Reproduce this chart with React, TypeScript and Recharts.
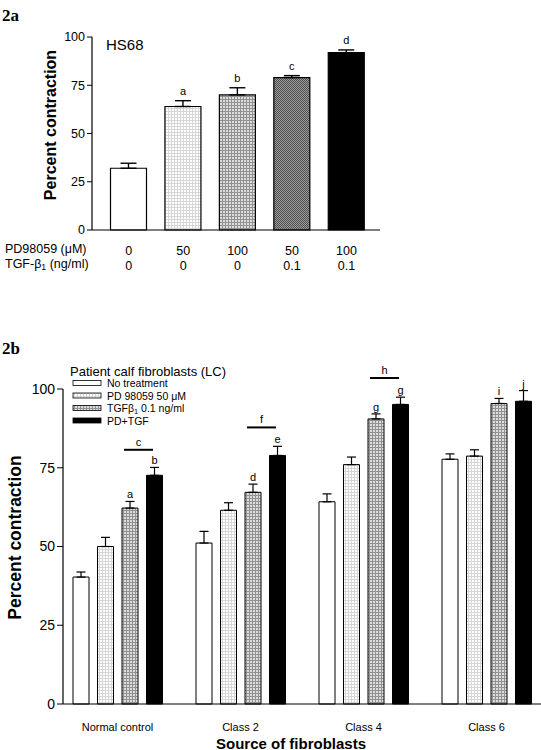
import React from 'react';
import { BarChart, Bar, XAxis, YAxis, ErrorBar, Cell, LabelList, Legend } from 'recharts';

// ---- panel 2a (HS68) ----
const topIds = [0, 1, 2, 3, 4];
const pdDose = ['0', '50', '100', '50', '100'];
const tgfDose = ['0', '0', '0', '0.1', '0.1'];
const topValues = [32.0, 64.0, 70.0, 79.0, 91.9];
const topErr = [2.6, 3.0, 3.7, 1.0, 1.4];
const topLetters = ['', 'a', 'b', 'c', 'd'];

// ---- panel 2b (patient calf fibroblasts) ----
const sources = ['Normal control', 'Class 2', 'Class 4', 'Class 6'];
const seriesNames = ['No treatment', 'PD 98059 50 μM', 'TGFβ1 0.1 ng/ml', 'PD+TGF'];
const noTreatment = [40.3, 51.1, 64.2, 77.7];
const noTreatmentErr = [1.6, 3.7, 2.5, 1.7];
const pd98059 = [50.0, 61.5, 76.0, 78.7];
const pd98059Err = [2.9, 2.4, 2.4, 2.0];
const tgfb = [62.2, 67.2, 90.5, 95.4];
const tgfbErr = [2.1, 2.6, 1.6, 1.6];
const pdTgf = [72.6, 78.9, 95.1, 96.1];
const pdTgfErr = [2.5, 2.9, 2.3, 3.4];
const tgfbLetters = ['a', 'd', 'g', 'i'];
const pdTgfLetters = ['b', 'e', 'g', 'j'];
const bracketLevel = [80.7, 87.8, 103.5, 0];
const bracketLetters = ['c', 'f', 'h', ''];

const yTicks = [0, 25, 50, 75, 100];

const topData = topIds.map((id, i) => ({ id, value: topValues[i], err: [0, topErr[i]] }));
const bottomData = sources.map((s, i) => ({
  source: s,
  nt: noTreatment[i], ntErr: [0, noTreatmentErr[i]],
  pd: pd98059[i], pdErr: [0, pd98059Err[i]],
  tgf: tgfb[i], tgfErr: [0, tgfbErr[i]],
  both: pdTgf[i], bothErr: [0, pdTgfErr[i]],
}));

const topFills = ['#fff', 'url(#pLight)', 'url(#pMid)', 'url(#pDark)', '#000'];
const seriesFills = ['#fff', 'url(#pLight)', 'url(#pMid)', '#000'];

const box = (p: any) => (p.viewBox && p.viewBox.width != null ? p.viewBox : p);

const letterLabel = (vals: number[], errs: number[], letters: string[], gap: number, size: number) => (p: any) => {
  const i = p.index;
  const t = letters[i];
  if (!t) return null;
  const b = box(p);
  const unit = b.height / vals[i];
  const top = b.y - errs[i] * unit;
  return (
    <text key={'l' + i} x={b.x + b.width / 2} y={top - gap} textAnchor="middle" fontSize={size} fill="#000">
      {t}
    </text>
  );
};

const bracketLabel = (p: any) => {
  const i = p.index;
  const t = bracketLetters[i];
  if (!t) return null;
  const b = box(p);
  const unit = b.height / tgfb[i];
  const ly = b.y + b.height - bracketLevel[i] * unit;
  const x1 = b.x + 2;
  const x2 = x1 + 29;
  return (
    <g key={'b' + i}>
      <line x1={x1} x2={x2} y1={ly} y2={ly} stroke="#000" strokeWidth={2} />
      <text x={(x1 + x2) / 2} y={ly - 4} textAnchor="middle" fontSize={11} fill="#000">{t}</text>
    </g>
  );
};

const withSub = (s: string) => {
  const k = s.indexOf('β1');
  if (k < 0) return s;
  return (
    <>
      {s.slice(0, k + 1)}
      <tspan fontSize="0.7em" dy={2}>1</tspan>
      <tspan dy={-2}>{s.slice(k + 2)}</tspan>
    </>
  );
};

const TopTick = (props: any) => {
  const { x, y, payload } = props;
  const i = Number(payload.value);
  return (
    <g>
      <text x={x} y={y + 22.5} textAnchor="middle" fontSize={12.5} fill="#000">{pdDose[i]}</text>
      <text x={x} y={y + 38} textAnchor="middle" fontSize={12.5} fill="#000">{tgfDose[i]}</text>
    </g>
  );
};

const BottomTick = (props: any) => {
  const { x, y, payload } = props;
  return (
    <text x={x} y={y + 25} textAnchor="middle" fontSize={11} fill="#000">{payload.value}</text>
  );
};

const renderLegend = () => (
  <svg width={200} height={66} style={{ display: 'block', overflow: 'visible' }}>
    <text x={2} y={15.5} fontSize={13} fill="#000">Patient calf fibroblasts (LC)</text>
    {seriesNames.map((n, i) => (
      <g key={n}>
        <rect x={5} y={20.5 + i * 12.5} width={28} height={5} fill={seriesFills[i]} stroke="#000" strokeWidth={0.8} />
        <text x={39} y={27 + i * 12.5} fontSize={10.5} fill="#000">{withSub(n)}</text>
      </g>
    ))}
  </svg>
);

export default function App() {
  return (
    <div style={{ position: 'absolute', left: 0, top: 0, width: 541, height: 750, background: '#fff', fontFamily: '"Liberation Sans", Arial, sans-serif' }}>
      <svg width={0} height={0} style={{ position: 'absolute' }}>
        <defs>
          <pattern id="pLight" width={3} height={3} patternUnits="userSpaceOnUse">
            <rect width={3} height={3} fill="#fff" />
            <rect width={3} height={1} fill="#d6d6d6" />
            <rect width={1} height={3} fill="#d6d6d6" />
          </pattern>
          <pattern id="pMid" width={3} height={3} patternUnits="userSpaceOnUse">
            <rect width={3} height={3} fill="#dcdcdc" />
            <rect width={3} height={1} fill="#929292" />
            <rect width={1} height={3} fill="#929292" />
          </pattern>
          <pattern id="pDark" width={2} height={2} patternUnits="userSpaceOnUse">
            <rect width={2} height={2} fill="#9a9a9a" />
            <rect width={1} height={1} fill="#505050" />
            <rect x={1} y={1} width={1} height={1} fill="#505050" />
          </pattern>
        </defs>
      </svg>

      {/* 2a */}
      <div style={{ position: 'absolute', left: 0, top: 0 }}>
        <BarChart width={541} height={300} data={topData} margin={{ top: 37, right: 161, bottom: 0, left: 0 }}>
          <XAxis dataKey="id" height={70} interval={0} tickSize={0} tickLine={false} tick={<TopTick />}
            axisLine={{ stroke: '#000', strokeWidth: 1.2 }} padding={{ left: 9.5, right: 6.3 }} />
          <YAxis width={92} domain={[0, 100]} ticks={yTicks} interval={0} tickSize={5} tickMargin={2}
            axisLine={{ stroke: '#000', strokeWidth: 1.2 }} tickLine={{ stroke: '#000' }}
            tick={{ fill: '#000', fontSize: 12.5 }} />
          <Bar dataKey="value" barSize={36} stroke="#000" strokeWidth={1.2} isAnimationActive={false}>
            {topData.map((d, i) => <Cell key={d.id} fill={topFills[i]} />)}
            <ErrorBar dataKey="err" width={8} stroke="#000" strokeWidth={1.4} direction="y" />
            <LabelList dataKey="value" content={letterLabel(topValues, topErr, topLetters, 6, 11)} />
          </Bar>
        </BarChart>
      </div>

      {/* 2b */}
      <div style={{ position: 'absolute', left: 0, top: 300 }}>
        <BarChart width={541} height={450} data={bottomData} barSize={16} barGap={8.5}
          margin={{ top: 89, right: 0, bottom: 0, left: 0 }}>
          <XAxis dataKey="source" height={46} interval={0} tickSize={0} tickLine={false} tick={<BottomTick />}
            axisLine={{ stroke: '#000', strokeWidth: 1.2 }} padding={{ left: -7, right: -7 }} />
          <YAxis width={63} domain={[0, 100]} ticks={yTicks} interval={0} tickSize={6} tickMargin={2}
            axisLine={{ stroke: '#000', strokeWidth: 1.2 }} tickLine={{ stroke: '#000' }}
            tick={{ fill: '#000', fontSize: 14 }} />
          <Legend content={renderLegend} layout="horizontal" verticalAlign="middle" align="center"
            wrapperStyle={{ left: 68, top: 60, width: 200 }} />
          <Bar dataKey="nt" fill={seriesFills[0]} stroke="#000" strokeWidth={1} isAnimationActive={false}>
            <ErrorBar dataKey="ntErr" width={4.5} stroke="#000" strokeWidth={1.2} direction="y" />
          </Bar>
          <Bar dataKey="pd" fill={seriesFills[1]} stroke="#000" strokeWidth={1} isAnimationActive={false}>
            <ErrorBar dataKey="pdErr" width={4.5} stroke="#000" strokeWidth={1.2} direction="y" />
          </Bar>
          <Bar dataKey="tgf" fill={seriesFills[2]} stroke="#000" strokeWidth={1} isAnimationActive={false}>
            <ErrorBar dataKey="tgfErr" width={4.5} stroke="#000" strokeWidth={1.2} direction="y" />
            <LabelList dataKey="tgf" content={letterLabel(tgfb, tgfbErr, tgfbLetters, 3, 11)} />
            <LabelList dataKey="tgf" content={bracketLabel} />
          </Bar>
          <Bar dataKey="both" fill={seriesFills[3]} stroke="#000" strokeWidth={1} isAnimationActive={false}>
            <ErrorBar dataKey="bothErr" width={4.5} stroke="#000" strokeWidth={1.2} direction="y" />
            <LabelList dataKey="both" content={letterLabel(pdTgf, pdTgfErr, pdTgfLetters, 3, 11)} />
          </Bar>
        </BarChart>
      </div>

      {/* free text */}
      <svg width={541} height={750} style={{ position: 'absolute', left: 0, top: 0, pointerEvents: 'none' }}>
        <text x={2} y={21} fontFamily='"Liberation Serif", serif' fontWeight="bold" fontSize={17}>2a</text>
        <text x={106} y={50} fontSize={15}>HS68</text>
        <text transform="translate(56,125) rotate(-90)" textAnchor="middle" fontWeight="bold" fontSize={16}>Percent contraction</text>
        <text x={5} y={252.5} fontSize={12.5}>PD98059 (μM)</text>
        <text x={5} y={268} fontSize={12.5}>{withSub('TGF-β1 (ng/ml)')}</text>
        <text x={2} y={354} fontFamily='"Liberation Serif", serif' fontWeight="bold" fontSize={17}>2b</text>
        <text transform="translate(21,537.5) rotate(-90)" textAnchor="middle" fontWeight="bold" fontSize={17.5}>Percent contraction</text>
        <text x={291} y={748.5} textAnchor="middle" fontWeight="bold" fontSize={15}>Source of fibroblasts</text>
      </svg>
    </div>
  );
}
